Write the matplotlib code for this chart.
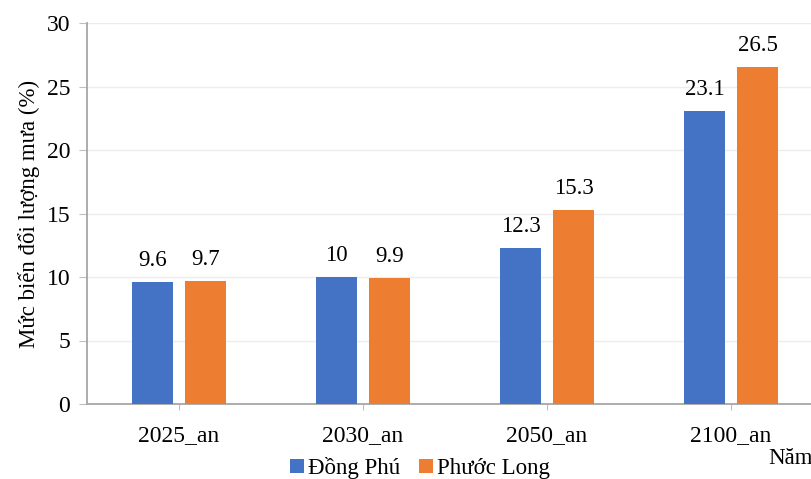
import matplotlib.pyplot as plt
import numpy as np

plt.rcParams['font.family'] = ['Liberation Serif', 'DejaVu Serif']

years = ["2025_an", "2030_an", "2050_an", "2100_an"]
dong_phu = [9.6, 10, 12.3, 23.1]
phuoc_long = [9.7, 9.9, 15.3, 26.5]

blue = "#4472C4"
orange = "#ED7D31"

fig = plt.figure(figsize=(8.11, 4.79), dpi=100)
ax = fig.add_axes([87 / 811, 1 - 404 / 479, 736 / 811, 381 / 479])

x = np.arange(len(years))
w = 0.223
off = 0.144
b1 = ax.bar(x - off, dong_phu, w, color=blue, label="Đồng Phú", zorder=3)
b2 = ax.bar(x + off, phuoc_long, w, color=orange, label="Phước Long", zorder=3)

# value labels above each bar
for bars, vals in [(b1, dong_phu), (b2, phuoc_long)]:
    for rect, v in zip(bars, vals):
        ax.annotate(f"{v:g}", (rect.get_x() + rect.get_width() / 2, v),
                    xytext=(0, 8), textcoords="offset points",
                    ha="center", va="bottom", fontsize=16.5)

ax.set_xlim(-0.5, 3.5)
ax.set_ylim(0, 30)
ax.set_yticks(range(0, 31, 5))
ax.set_xticks(x)
ax.set_xticklabels(years)
ax.tick_params(axis="y", labelsize=17, length=6, color="#BFBFBF", pad=6)
ax.tick_params(axis="x", labelsize=17, length=4, color="#BFBFBF", pad=11)
ax.yaxis.grid(True, color="#EDEDED", linewidth=1, zorder=0)
for s in ["top", "right"]:
    ax.spines[s].set_visible(False)
for s in ["left", "bottom"]:
    ax.spines[s].set_color("#A6A6A6")
    ax.spines[s].set_linewidth(1.3)

ax.set_ylabel("Mức biến đổi lượng mưa (%)", fontsize=16.5, labelpad=5)

fig.text(768 / 811, 1 - 458 / 479, "Năm", fontsize=16.5, va="center", ha="left")
fig.legend(handles=[b1, b2], loc="center", bbox_to_anchor=(420 / 811, 1 - 468 / 479),
           ncol=2, frameon=False, fontsize=16.5, handlelength=0.6, handleheight=0.6,
           handletextpad=0.2, columnspacing=0.8)

fig.savefig("out.png", dpi=100)
